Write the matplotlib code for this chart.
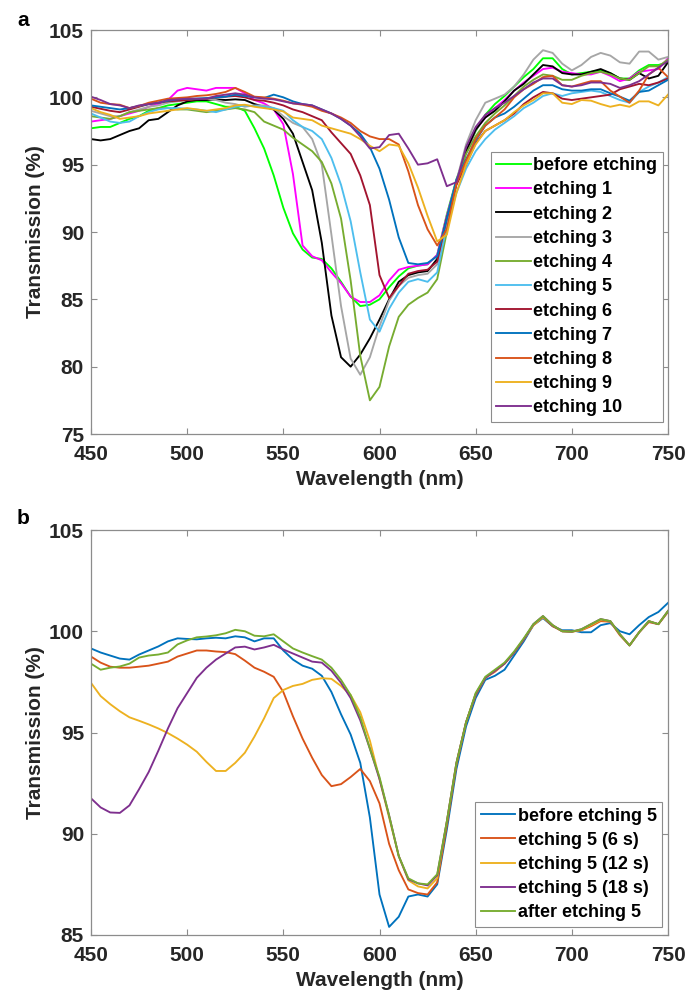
import matplotlib
matplotlib.use("Agg")
import matplotlib.pyplot as plt

plt.rcParams['font.family'] = ['Liberation Sans', 'DejaVu Sans']
plt.rcParams['font.weight'] = 'bold'

wavelength = list(range(450, 755, 5))

# ---------------- panel a ----------------
labels_a = ['before etching', 'etching 1', 'etching 2', 'etching 3', 'etching 4',
            'etching 5', 'etching 6', 'etching 7', 'etching 8', 'etching 9', 'etching 10']
colors_a = ['#00FF00', '#FF00FF', '#000000', '#A6A6A6', '#77AC30',
            '#4DBEEE', '#A2142F', '#0072BD', '#D95319', '#EDB120', '#7E2F8E']

before = [97.7, 97.8, 97.8, 98.1, 98.4, 98.6, 99.0, 99.2, 99.4, 99.5,
          99.6, 99.7, 99.7, 99.5, 99.3, 99.3, 99.0, 97.7, 96.2, 94.2,
          91.8, 89.9, 88.7, 88.1, 88.0, 87.3, 86.3, 85.2, 84.5, 84.6,
          85.0, 85.9, 86.7, 87.3, 87.5, 87.6, 88.3, 91.3, 93.9, 95.9,
          97.5, 98.7, 99.5, 100.1, 100.8, 101.5, 102.1, 102.9, 102.9, 102.1,
          101.7, 101.8, 101.9, 102.0, 101.8, 101.4, 101.4, 102.0, 102.4, 102.4,
          102.6]
etch1 = [98.2, 98.3, 98.4, 98.6, 98.8, 99.0, 99.3, 99.5, 99.8, 100.5,
         100.7, 100.6, 100.5, 100.7, 100.7, 100.7, 100.3, 99.8, 99.55, 99.1,
         98.0, 94.3, 89.0, 88.2, 87.9, 87.0, 86.2, 85.2, 84.8, 84.8,
         85.3, 86.4, 87.2, 87.4, 87.5, 87.6, 88.3, 91.2, 93.8, 95.9,
         97.6, 98.5, 99.2, 99.8, 100.5, 101.1, 101.6, 102.1, 102.2, 101.9,
         101.8, 101.7, 101.7, 101.9, 101.6, 101.2, 101.4, 101.9, 102.0, 102.1,
         102.9]
etch2 = [96.9, 96.8, 96.9, 97.2, 97.5, 97.7, 98.3, 98.4, 98.9, 99.4,
         99.7, 99.8, 99.8, 99.85, 99.8, 99.85, 99.8, 99.5, 99.3, 99.1,
         98.4, 97.3, 95.2, 93.1, 89.2, 83.8, 80.7, 80.0, 80.9, 82.1,
         83.5, 85.0, 86.3, 86.8, 87.0, 87.1, 88.0, 91.0, 93.6, 96.0,
         97.6, 98.5, 99.0, 99.7, 100.5, 101.0, 101.7, 102.4, 102.3, 101.8,
         101.7, 101.7, 101.9, 102.1, 101.8, 101.4, 101.3, 101.8, 101.4, 101.6,
         102.6]
etch3 = [99.0, 98.8, 98.6, 98.6, 98.9, 99.1, 99.3, 99.4, 99.6, 99.7,
         99.8, 99.9, 99.9, 99.8, 99.6, 99.5, 99.3, 99.4, 99.4, 99.2,
         98.6, 98.1, 97.8, 96.9, 95.0, 89.8, 84.5, 80.6, 79.4, 80.7,
         83.0, 84.9, 86.0, 86.6, 86.8, 86.9, 87.6, 90.9, 93.8, 96.5,
         98.3, 99.6, 99.9, 100.2, 100.8, 101.7, 102.8, 103.5, 103.3, 102.5,
         102.0, 102.4, 103.0, 103.3, 103.1, 102.6, 102.5, 103.4, 103.4, 102.8,
         103.0]
etch4 = [98.6, 98.5, 98.4, 98.6, 98.9, 99.0, 99.1, 99.2, 99.2, 99.1,
         99.1, 99.0, 98.9, 99.0, 99.1, 99.2, 99.1, 98.9, 98.2, 97.9,
         97.6, 97.0, 96.5, 96.0, 95.2, 93.6, 91.0, 86.4, 80.8, 77.5,
         78.5, 81.5, 83.7, 84.6, 85.1, 85.5, 86.5, 90.0, 93.6, 95.8,
         97.1, 98.1, 98.8, 99.4, 100.1, 100.8, 101.3, 101.7, 101.6, 101.3,
         101.3, 101.6, 101.8, 101.9, 101.7, 101.4, 101.3, 101.8, 102.3, 102.3,
         102.8]
etch5 = [98.8, 98.5, 98.2, 98.1, 98.2, 98.6, 98.9, 99.1, 99.2, 99.2,
         99.15, 99.1, 99.0, 98.9, 99.1, 99.3, 99.4, 99.35, 99.3, 99.2,
         99.0, 98.3, 97.8, 97.5, 96.9, 95.5, 93.5, 90.8, 87.0, 83.5,
         82.6, 84.3, 85.5, 86.3, 86.5, 86.3, 87.0, 90.5, 92.9, 94.7,
         96.0, 96.9, 97.6, 98.1, 98.6, 99.2, 99.6, 100.1, 100.3, 100.1,
         100.3, 100.4, 100.5, 100.4, 100.1, 99.8, 99.6, 100.4, 100.8, 101.1,
         101.5]
etch6 = [99.3, 99.15, 99.0, 98.9, 99.1, 99.3, 99.5, 99.6, 99.7, 99.75,
         99.8, 99.85, 99.9, 100.0, 100.05, 100.1, 100.0, 99.8, 99.75, 99.6,
         99.4, 99.1, 98.9, 98.6, 98.3, 97.4, 96.6, 95.8, 94.2, 92.0,
         86.8, 85.1, 86.0, 86.9, 87.1, 87.2, 87.8, 91.0, 93.5, 95.0,
         96.6, 97.5, 97.9, 98.3, 98.8, 99.5, 100.0, 100.4, 100.3, 99.9,
         99.8, 99.9, 100.0, 100.1, 100.2, 100.6, 100.8, 101.0, 100.9, 101.1,
         101.4]
etch7 = [99.4, 99.3, 99.2, 99.1, 99.2, 99.35, 99.5, 99.6, 99.75, 99.85,
         99.9, 99.9, 99.95, 100.0, 100.05, 100.2, 100.1, 100.0, 99.95, 100.2,
         100.0, 99.7, 99.5, 99.4, 99.1, 98.8, 98.4, 97.9, 97.3, 96.3,
         94.7, 92.4, 89.6, 87.7, 87.6, 87.7, 88.2, 91.0, 93.9, 95.4,
         96.8, 97.9, 98.5, 98.8, 99.3, 99.9, 100.5, 100.9, 100.9, 100.6,
         100.5, 100.5, 100.6, 100.6, 100.3, 100.05, 99.75, 100.4, 100.5, 100.9,
         101.3]
etch8 = [99.9, 99.6, 99.5, 99.45, 99.2, 99.35, 99.6, 99.75, 99.9, 99.95,
         100.0, 100.1, 100.15, 100.25, 100.4, 100.7, 100.4, 100.05, 100.0, 99.9,
         99.75, 99.55, 99.45, 99.3, 99.0, 98.8, 98.5, 98.1, 97.5, 97.1,
         96.9, 96.9, 96.5, 94.5, 92.0, 90.2, 89.0, 90.2, 93.6, 95.3,
         96.9, 97.9, 98.5, 99.1, 100.0, 100.6, 101.0, 101.5, 101.6, 100.9,
         100.8, 101.0, 101.2, 101.2, 100.5, 100.05, 99.6, 100.5, 101.7, 102.2,
         101.5]
etch9 = [99.2, 98.9, 98.7, 98.4, 98.5, 98.6, 98.8, 98.9, 99.0, 99.1,
         99.2, 99.1, 99.0, 99.1, 99.2, 99.4, 99.45, 99.3, 99.2, 99.1,
         98.95, 98.5, 98.4, 98.3, 97.9, 97.7, 97.5, 97.3, 96.9, 96.4,
         96.0, 96.5, 96.4, 95.1, 93.3, 91.2, 89.3, 89.8, 92.9, 95.0,
         96.5, 97.5, 97.9, 98.3, 98.9, 99.4, 99.8, 100.3, 100.3, 99.6,
         99.5, 99.8, 99.75, 99.5, 99.3, 99.45, 99.3, 99.7, 99.7, 99.4,
         100.2]
etch10 = [100.05, 99.8, 99.5, 99.4, 99.2, 99.4, 99.5, 99.6, 99.8, 99.85,
          99.9, 99.9, 99.9, 100.1, 100.2, 100.3, 100.2, 100.0, 99.9, 99.85,
          99.7, 99.55, 99.5, 99.4, 99.1, 98.8, 98.4, 97.9, 97.1, 96.2,
          96.3, 97.2, 97.3, 96.2, 95.0, 95.1, 95.4, 93.4, 93.7, 96.3,
          97.8, 98.7, 99.2, 99.6, 100.1, 100.6, 101.1, 101.4, 101.4, 100.9,
          100.8, 100.9, 101.1, 101.1, 101.0, 100.7, 100.9, 101.2, 101.7, 102.2,
          102.7]
series_a = [before, etch1, etch2, etch3, etch4, etch5, etch6, etch7, etch8, etch9, etch10]

# ---------------- panel b ----------------
labels_b = ['before etching 5', 'etching 5 (6 s)', 'etching 5 (12 s)',
            'etching 5 (18 s)', 'after etching 5']
colors_b = ['#0072BD', '#D95319', '#EDB120', '#7E2F8E', '#77AC30']

b_before = [99.15, 98.95, 98.8, 98.65, 98.6, 98.85, 99.05, 99.25, 99.5, 99.65,
            99.62, 99.6, 99.65, 99.68, 99.65, 99.75, 99.7, 99.5, 99.65, 99.65,
            99.05, 98.6, 98.3, 98.15, 97.8, 97.0, 95.9, 94.9, 93.5, 90.8,
            87.0, 85.4, 85.9, 86.9, 87.0, 86.9, 87.5, 90.2, 93.2, 95.3,
            96.7, 97.6, 97.8, 98.1, 98.8, 99.5, 100.3, 100.65, 100.25, 100.05,
            100.05, 99.95, 99.95, 100.3, 100.4, 100.0, 99.85, 100.3, 100.7, 100.95,
            101.4]
b_6s = [98.75, 98.45, 98.25, 98.2, 98.2, 98.25, 98.3, 98.4, 98.5, 98.75,
        98.9, 99.05, 99.05, 99.0, 98.97, 98.87, 98.55, 98.2, 98.0, 97.75,
        97.0, 95.8, 94.7, 93.75, 92.9, 92.35, 92.45, 92.8, 93.2, 92.6,
        91.5, 89.5, 88.2, 87.25, 87.07, 87.0, 87.6, 90.4, 93.4, 95.5,
        96.85, 97.7, 98.0, 98.4, 98.95, 99.6, 100.3, 100.7, 100.25, 100.0,
        99.98, 100.05, 100.25, 100.5, 100.47, 99.8, 99.3, 99.95, 100.45, 100.35,
        100.95]
b_12s = [97.45, 96.8, 96.4, 96.05, 95.75, 95.58, 95.4, 95.2, 94.97, 94.7,
         94.4, 94.05, 93.55, 93.1, 93.1, 93.5, 94.0, 94.8, 95.7, 96.7,
         97.1, 97.3, 97.4, 97.6, 97.68, 97.65, 97.3, 96.85, 96.0, 94.6,
         92.7, 90.8, 88.9, 87.7, 87.4, 87.3, 87.8, 90.6, 93.5, 95.5,
         96.9, 97.7, 98.05, 98.4, 98.95, 99.6, 100.3, 100.7, 100.3, 100.0,
         99.98, 100.06, 100.3, 100.55, 100.5, 99.85, 99.3, 99.95, 100.5, 100.35,
         101.0]
b_18s = [91.75, 91.3, 91.05, 91.03, 91.4, 92.2, 93.05, 94.1, 95.2, 96.2,
         96.95, 97.7, 98.2, 98.6, 98.9, 99.2, 99.24, 99.1, 99.2, 99.33,
         99.1, 98.9, 98.7, 98.5, 98.45, 98.05, 97.45, 96.7, 95.6, 94.2,
         92.7, 90.9, 88.9, 87.75, 87.55, 87.45, 87.95, 90.6, 93.5, 95.5,
         96.9, 97.7, 98.05, 98.4, 98.95, 99.6, 100.35, 100.75, 100.3, 100.0,
         99.98, 100.1, 100.35, 100.6, 100.5, 99.85, 99.3, 99.95, 100.5, 100.35,
         101.0]
b_after = [98.4, 98.1, 98.2, 98.26, 98.4, 98.7, 98.8, 98.85, 98.95, 99.35,
           99.55, 99.7, 99.74, 99.8, 99.9, 100.07, 100.0, 99.78, 99.75, 99.85,
           99.5, 99.15, 98.95, 98.77, 98.6, 98.2, 97.6, 96.85, 95.75, 94.2,
           92.8, 90.9, 88.9, 87.8, 87.55, 87.5, 88.0, 90.6, 93.5, 95.5,
           96.95, 97.75, 98.1, 98.45, 99.0, 99.65, 100.35, 100.75, 100.3, 100.0,
           99.98, 100.1, 100.35, 100.6, 100.5, 99.85, 99.3, 99.95, 100.5, 100.35,
           101.0]
series_b = [b_before, b_6s, b_12s, b_18s, b_after]

xticks = [450, 500, 550, 600, 650, 700, 750]
yticks_a = [75, 80, 85, 90, 95, 100, 105]
yticks_b = [85, 90, 95, 100, 105]

FS = 15
FS_LEG = 13
TXT = '#262626'
SPINE = '#8C8C8C'

fig = plt.figure(figsize=(6.86, 9.94), dpi=100)
ax_a = fig.add_axes([91 / 686, 1 - 434 / 994, 577 / 686, 404 / 994])
ax_b = fig.add_axes([91 / 686, 1 - 935 / 994, 577 / 686, 405 / 994])


def style(ax, yticks, ylim):
    ax.set_xlim(450, 750)
    ax.set_ylim(*ylim)
    ax.set_xticks(xticks)
    ax.set_yticks(yticks)
    ax.tick_params(direction='in', length=4, width=0.8, color=SPINE,
                   top=True, right=True, labelsize=FS, labelcolor=TXT)
    ax.tick_params(axis='y', pad=5)
    ax.tick_params(axis='x', pad=8)
    for lab in ax.get_xticklabels() + ax.get_yticklabels():
        lab.set_fontweight('bold')
    for s in ax.spines.values():
        s.set_color(SPINE)
        s.set_linewidth(0.9)
    ax.set_xlabel('Wavelength (nm)', fontsize=FS, fontweight='bold', color=TXT, labelpad=4)
    ax.set_ylabel('Transmission (%)', fontsize=FS, fontweight='bold', color=TXT, labelpad=3)


def legend(ax, anchor):
    leg = ax.legend(loc='lower right', bbox_to_anchor=anchor, borderaxespad=0,
                    fancybox=False, framealpha=1, edgecolor=SPINE,
                    prop={'size': FS_LEG, 'weight': 'bold'}, handlelength=1.9,
                    handletextpad=0.15, labelspacing=0.4, borderpad=0.3)
    leg.get_frame().set_linewidth(0.8)
    return leg


for y, c, lab in zip(series_a, colors_a, labels_a):
    ax_a.plot(wavelength, y, color=c, lw=1.35, label=lab)
style(ax_a, yticks_a, (75, 105))
legend(ax_a, (0.991, 0.03))

for y, c, lab in zip(series_b, colors_b, labels_b):
    ax_b.plot(wavelength, y, color=c, lw=1.35, label=lab)
style(ax_b, yticks_b, (85, 105))
legend(ax_b, (0.99, 0.02))

fig.text(17 / 686, 1 - 20 / 994, 'a', fontsize=15, fontweight='bold', color='black',
         ha='left', va='center')
fig.text(17 / 686, 1 - 518 / 994, 'b', fontsize=15, fontweight='bold', color='black',
         ha='left', va='center')

fig.savefig('out.png', dpi=100)
